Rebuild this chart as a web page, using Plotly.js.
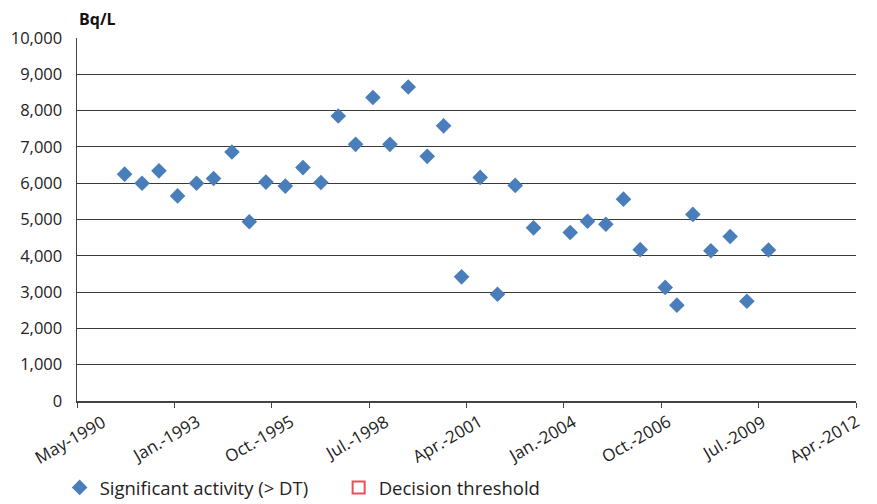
<!DOCTYPE html>
<html>
<head>
<meta charset="utf-8">
<script src="https://cdn.plot.ly/plotly-3.0.1.min.js"></script>
<style>html,body{margin:0;padding:0;background:#fff;}#chart{width:877px;height:504px;}</style>
</head>
<body>
<div id="chart"></div>
<script>
// Sample dates and significant activity values (Bq/L)
const sampleDates = [
  '1991-09-07','1992-03-04','1992-08-25','1993-03-04','1993-09-15','1994-03-09',
  '1994-09-14','1995-03-11','1995-08-29','1996-03-15','1996-09-12','1997-03-16',
  '1997-09-10','1998-03-07','1998-09-01','1999-02-23','1999-08-30','2000-03-12',
  '2000-08-27','2001-02-28','2001-09-07','2002-03-04','2002-09-02','2003-03-09',
  '2004-03-20','2004-09-14','2005-03-21','2005-09-18','2006-03-09','2006-11-21',
  '2007-03-21','2007-09-01','2008-03-04','2008-09-18','2009-03-09','2009-10-17'
];
const activityValues = [
  6250, 6000, 6340, 5650, 6000, 6130,
  6860, 4940, 6030, 5920, 6430, 6020,
  7850, 7070, 8360, 7070, 8650, 6740,
  7580, 3420, 6160, 2940, 5940, 4770,
  4640, 4950, 4870, 5560, 4170, 3130,
  2640, 5140, 4140, 4530, 2750, 4160
];
// Decision threshold series (no points visible in the chart)
const thresholdDates = [null];
const thresholdValues = [null];

const tickDates = ['1990-05-06','1993-01-30','1995-10-27','1998-07-24','2001-04-19','2004-01-14','2006-10-11','2009-07-08','2012-04-03'];
const tickLabels = ['May-1990','Jan.-1993','Oct.-1995','Jul.-1998','Apr.-2001','Jan.-2004','Oct.-2006','Jul.-2009','Apr.-2012'];
const yTickVals = [0,1000,2000,3000,4000,5000,6000,7000,8000,9000,10000];
const yTickLabels = ['0','1,000','2,000','3,000','4,000','5,000','6,000','7,000','8,000','9,000','10,000'];

const FONT = 'Open Sans, Noto Sans, sans-serif';

const traces = [
  {
    type: 'scatter', mode: 'markers', name: 'Significant activity (> DT)',
    x: sampleDates, y: activityValues,
    marker: {symbol: 'diamond', size: 12, color: '#4A7EBB', line: {width: 0}},
    cliponaxis: false
  },
  {
    type: 'scatter', mode: 'markers', name: 'Decision threshold',
    x: thresholdDates, y: thresholdValues,
    marker: {symbol: 'square-open', size: 11, color: '#E8505B', line: {width: 2, color: '#E8505B'}}
  }
];

// Rotated x tick labels; their right ends sit a little right of each tick,
// the offset shrinking slightly along the axis as in the reference
const nTicks = tickDates.length;
const xLabelAnnotations = tickDates.map((d, i) => ({
  text: tickLabels[i], xref: 'x', yref: 'y', x: d, y: 0,
  xanchor: 'right', yanchor: 'top', yshift: -6, xshift: 35 - 25 * i / (nTicks - 1), textangle: -30,
  showarrow: false, font: {family: FONT, size: 17, color: '#222'}
}));

const layout = {
  width: 877, height: 504,
  margin: {l: 77, r: 21, t: 38, b: 103},
  paper_bgcolor: '#ffffff', plot_bgcolor: '#ffffff',
  font: {family: FONT, size: 15, color: '#222222'},
  showlegend: true,
  legend: {
    orientation: 'h', xref: 'container', x: 0.068, xanchor: 'left', yref: 'container', y: 0.032, yanchor: 'middle',
    font: {family: FONT, size: 18.5, color: '#222222'}, itemsizing: 'constant', entrywidth: 234
  },
  xaxis: {
    type: 'date', range: ['1990-05-06', '2012-04-03'],
    tickmode: 'array', tickvals: tickDates, ticktext: tickLabels, showticklabels: false,
    ticks: 'outside', ticklen: 5, tickcolor: '#444', tickwidth: 1,
    showgrid: false, showline: true, linecolor: '#444', linewidth: 1.5,
    zeroline: false, fixedrange: true
  },
  yaxis: {
    range: [0, 10000], tickmode: 'array', tickvals: yTickVals, ticktext: yTickLabels,
    showgrid: true, gridcolor: '#3a3a3a', gridwidth: 1,
    showline: true, linecolor: '#444', linewidth: 1.5, zeroline: false,
    ticks: '', ticklabelstandoff: 10,
    tickfont: {family: FONT, size: 16.5, color: '#222'}, fixedrange: true
  },
  annotations: [{
    text: '<b>Bq/L</b>', xref: 'paper', yref: 'paper', x: 0, y: 1, xanchor: 'left', yanchor: 'bottom',
    yshift: 6, showarrow: false, font: {family: FONT, size: 16, color: '#111'}
  }].concat(xLabelAnnotations)
};

Plotly.newPlot('chart', traces, layout, {displayModeBar: false, staticPlot: true});
</script>
</body>
</html>
